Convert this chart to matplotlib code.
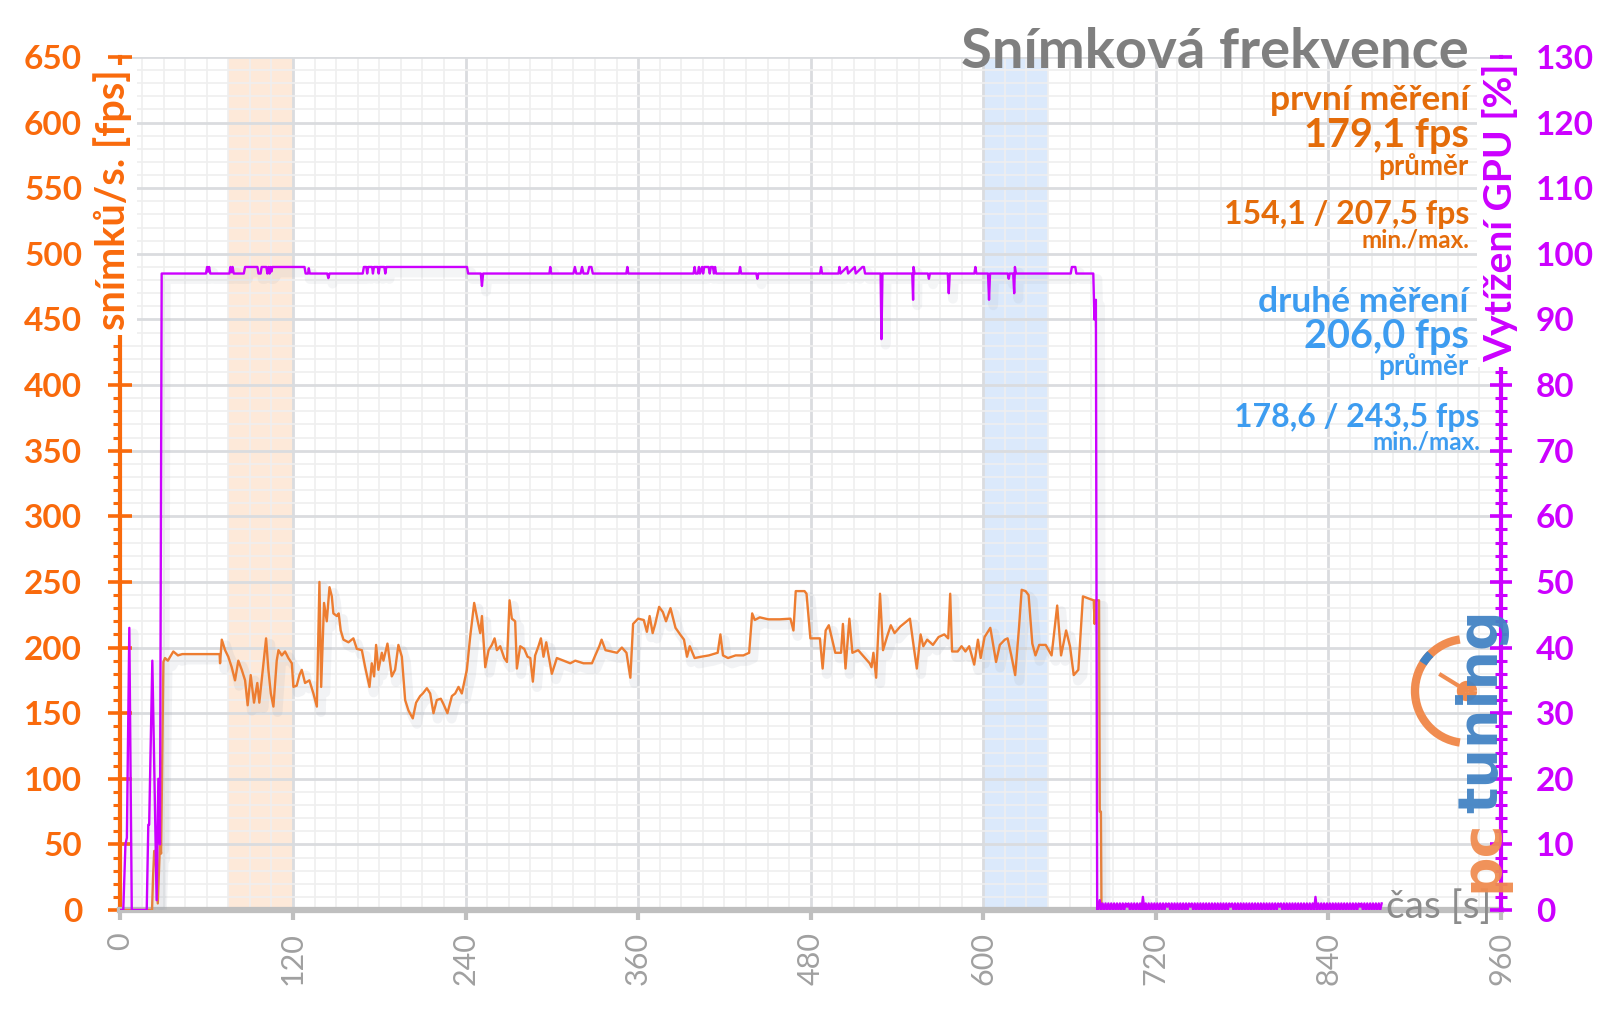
import matplotlib
matplotlib.use('Agg')
import matplotlib.pyplot as plt
import matplotlib.patheffects as pe
from matplotlib.patches import Arc
from matplotlib.lines import Line2D
from matplotlib.ticker import MultipleLocator

plt.rcParams['font.family'] = ['Lato', 'DejaVu Sans']

# snímková frekvence: čas [s] / fps
fps_t = [0, 22, 22.7, 23.5, 24.3, 26, 27.5, 28.3, 29.9, 31, 33, 36.8, 40, 43, 69, 69.3, 70.5,
         72.8, 75, 77.4, 79.7, 82, 84.4, 86.7, 88.5, 90.6, 92.9, 95.2, 96.6, 99, 101.3, 102.9,
         104.6, 106.4, 108.7, 109.9, 112.2, 114.5, 116.8, 119.2, 120.3, 122.6, 124.5, 126.1,
         128.4, 131.4, 134.2, 136.6, 138.4, 139.6, 141.6, 143.5, 145.4, 147, 148.1, 150.5,
         151.8, 153.2, 155.1, 158.6, 162, 164.4, 167.9, 170.2, 173.2, 174.8, 176.4, 177.8,
         179.4, 181.8, 182.9, 185.7, 188.7, 191, 193.3, 195.7, 198, 200.3, 203.3, 205.6, 208.4,
         210.3, 213.1, 215.4, 217.7, 220, 222.8, 224.6, 227.4, 230.5, 232.8, 235.1, 237.4,
         240.9, 243.2, 246, 248.3, 250.2, 251.4, 253.7, 256, 258.3, 260.2, 261.8, 264.1, 266.9,
         268.8, 270.6, 272.2, 274.5, 275.7, 278, 280.8, 283.1, 285, 286.8, 288.4, 290.7, 292.4,
         294.2, 296.1, 298.4, 300, 303.5, 308.1, 312.8, 316.3, 322, 327.9, 330.2, 333,
         334.6, 337.3, 341.3, 345.3, 348.7, 351.9, 354.6, 356.5, 360, 363.9, 366.1, 368, 370.1,
         371.9, 374.6, 377.2, 379.4, 382.5, 386, 389.2, 391.9, 394, 395.9, 399.3, 403.9, 409.2,
         415.3, 417.2, 419, 422.5, 427.8, 433.2, 437.2, 439.3, 441.1, 444.6, 450.5, 458.5,
         465.9, 468, 469.6, 475.7, 477.1, 479.8, 486.4, 488.3, 490.4, 492.6, 497.1, 501.1,
         502.4, 504.2, 506.9, 509, 513, 521, 522.3, 523.6, 525.5, 528.2, 530.3, 533, 535.7,
         538.3, 542.3, 549, 551.6, 553.8, 556.4, 558.3, 561, 565, 568.9, 572.9, 575.6, 577,
         578.3, 582.2, 584.9, 587.6, 590.2, 593.7, 596.3, 598.2, 600.9, 604.9, 608.9, 611.5,
         615, 616.9, 619.5, 622.2, 624.9, 626.7, 629.4, 631.5, 634.1, 636.3, 638.9, 643.4,
         647.5, 651.4, 654.1, 657.6, 660.3, 662.9, 666.1, 669.3, 674.1, 676.8, 677.4, 678,
         680.5, 681, 681.8, 682.2]
fps_v = [0, 0, 25, 45, 45, 5, 50, 43, 189, 192, 190, 197, 194, 195, 195, 188, 206,
         198, 193, 185, 175, 190, 183, 175, 156, 179, 158, 173, 158, 183, 207, 183,
         165, 155, 190, 198, 194, 197, 192, 188, 170, 171, 179, 183,
         173, 175, 165, 155, 250, 170, 234, 220, 246, 239, 226, 224,
         226, 213, 206, 204, 207, 199, 198, 185, 170, 188, 178, 202,
         183, 196, 190, 203, 178, 183, 202, 193, 160, 152, 146, 158, 163,
         165, 169, 165, 150, 160, 161, 157, 150, 163, 165, 170, 165,
         183, 208, 234, 221, 211, 224, 185, 198, 202, 207, 198, 201, 192,
         189, 236, 222, 220, 184, 201, 199, 193, 192, 174, 194, 201, 207,
         193, 204, 190, 180, 192, 190, 188, 190, 188, 188, 194, 201,
         206, 198, 197, 196, 200, 196, 177, 218, 222, 221, 212, 224, 211,
         218, 231, 227, 220, 230, 215, 210, 206, 193, 201, 192, 193, 194,
         196, 210, 194, 192, 194, 194, 196, 226, 221, 223, 221.5, 221.5,
         222, 213, 243, 243, 241, 207, 207, 184, 213, 217, 196, 196,
         218, 184, 222, 196, 198, 188, 185, 196, 177, 241, 198, 208, 217,
         211, 216, 222, 201, 184, 210, 201, 206, 202, 208, 210, 207, 241,
         197, 197, 201, 197, 201, 187, 206, 192, 208, 215, 189, 202,
         206, 207, 194, 179, 216, 244, 243, 240, 203, 194, 202, 202,
         194, 232, 194, 213, 201, 179, 183, 239, 237, 236, 218, 236,
         236, 75, 75, 0]

# vytížení GPU: čas [s] / %
gpu_t = [0, 2, 3.5, 4.5, 6.2, 7.9, 18.3, 19.4, 20, 22.2, 25.2, 26.4, 27.5, 28.7,
         59.5, 60.3, 61, 61.7, 62.5, 75.8, 76.5, 77.3, 78, 78.8, 85.8, 86.7, 95.3, 96,
         97.5, 98.2, 101.5, 102.2, 103, 103.7, 104.4, 105, 105.6, 128, 128.8, 130.5, 131,
         131.7, 143.8, 144.6, 145.4, 168.5, 169.3, 171, 171.6, 172.3, 175, 175.6, 176.3,
         179, 179.6, 180.3, 183.5, 184.2, 184.9, 241, 241.8, 250.6, 251.4, 252.2, 298.3,
         298.9, 299.5, 315, 316, 317, 320, 321, 322, 325, 326, 327.5, 328.5, 351.8, 352.5,
         353.2, 398.5, 399.3, 400, 401.5, 402.3, 403, 404.5, 405.2, 406, 409, 409.8, 410.6,
         412, 412.7, 413.5, 414.2, 430.2, 430.9, 431.6, 442.2, 442.9, 443.6, 486.5, 487.2,
         487.9, 499.3, 500, 500.7, 505.3, 506, 510.6, 511.3, 516, 517, 517.8, 528.6, 529.2,
         529.9, 550.6, 551.2, 551.5, 552.2, 561.5, 562.2, 562.9, 575.3, 576, 576.7, 593.8,
         594.5, 595.2, 603.3, 604, 604.7, 617, 617.7, 618.3, 620.8, 621.5, 622, 622.7,
         660.8, 661.6, 664, 664.7, 676.5, 677.3, 678.3, 679.2]
gpu_v = [0, 0, 10, 11, 43, 0, 0, 13, 13, 38, 1.5, 20, 10, 97,
         97, 98, 97.3, 98, 97, 97, 98, 97.2, 98, 97, 97, 98, 98, 97,
         97, 98, 98, 97, 98, 97, 98, 97.3, 98, 98, 97, 97, 97.8,
         97, 97, 96.3, 97, 97, 98, 98, 97, 98, 98, 97, 98,
         98, 97, 98, 98, 97, 98, 98, 97, 97, 95.1, 97, 97,
         98, 97, 97, 98, 97, 97, 98, 97, 97, 98, 98, 97, 97, 98,
         97, 97, 98, 97, 97, 98, 97, 98, 97, 98, 98, 97, 98,
         98, 97, 98, 97, 97, 98, 97, 97, 96.2, 97, 97, 98,
         97, 97, 98, 97, 98, 97, 98, 97, 98, 98, 97, 97, 87,
         97, 97, 93, 98, 97, 97, 96.2, 97, 97, 94, 97, 97,
         98, 97, 97, 93, 97, 97, 96.2, 97, 97, 94, 98, 97,
         97, 98, 98, 97, 97, 90, 93, 0]
# klidová část 680-877 s po 1 s, číslice x 0.5 %
gpu_klid = ("0302020202" "0202020202" "1202020202" "0402020202" "0202020212"
            "0202020202" "0202120202" "0202020202" "0202020202" "0212020202"
            "0202020202" "0202020202" "0202021202" "0202020202" "0202020202"
            "0402020202" "0202020202" "0202020202" "0212020202" "02020202")
gpu_t = gpu_t + [680 + i for i in range(len(gpu_klid))]
gpu_v = gpu_v + [int(c) * 0.5 for c in gpu_klid]

band1 = (75, 120)
band2 = (600, 645)

c_or = '#f96a0c'
c_or_txt = '#e46c0a'
c_line = '#ed7d31'
c_pur = '#cc00ff'
c_blue = '#3d9cf0'
c_gray = '#7f7f7f'

W, H = 1600, 1009
fig = plt.figure(figsize=(16, 10.09), dpi=100)
ax = fig.add_axes([120.4 / W, 1 - 910 / H, (1501 - 120.4) / W, (910 - 57) / H])

def fx(x):
    return x / W

def fy(y):
    return 1 - y / H

ax.set_xlim(0, 960)
ax.set_ylim(0, 650)
ax.xaxis.set_major_locator(MultipleLocator(120))
ax.xaxis.set_minor_locator(MultipleLocator(15))
ax.yaxis.set_major_locator(MultipleLocator(50))
ax.yaxis.set_minor_locator(MultipleLocator(10))
ax.grid(which='major', color='#dadcdf', lw=2.0)
ax.grid(which='minor', color='#efefef', lw=1.2)
ax.set_axisbelow(True)

ax.axvspan(band1[0], band1[1], color='#fde9d9', zorder=0.2, lw=0)
ax.axvspan(band2[0], band2[1], color='#dbe9fb', zorder=0.2, lw=0)

for s in ['top', 'right']:
    ax.spines[s].set_visible(False)
ax.spines['left'].set_color(c_or)
ax.spines['left'].set_linewidth(3)
ax.spines['bottom'].set_color('#bfbfbf')
ax.spines['bottom'].set_linewidth(4.5)

ax.tick_params(axis='y', which='major', direction='inout', length=17, width=2.6,
               color=c_or, labelcolor=c_or, labelsize=24, pad=19)
ax.tick_params(axis='y', which='minor', direction='out', length=5, width=2.2, color=c_or)
ax.tick_params(axis='x', which='major', direction='out', length=7, width=3,
               color='#bfbfbf', labelcolor='#a0a0a0', labelsize=22, labelrotation=90, pad=9)
ax.tick_params(axis='x', which='minor', length=0)
for lbl in ax.get_yticklabels():
    lbl.set_fontweight('bold')

ax.plot(fps_t, fps_v, color=c_line, lw=1.7, zorder=3,
        path_effects=[pe.SimpleLineShadow(offset=(3, -4), shadow_color='#9aa3b0', alpha=0.12, linewidth=7),
                      pe.Normal()])

ax2 = ax.twinx()
ax2.set_ylim(0, 130)
ax2.yaxis.set_major_locator(MultipleLocator(10))
ax2.yaxis.set_minor_locator(MultipleLocator(2))
for s in ['top', 'left', 'bottom']:
    ax2.spines[s].set_visible(False)
ax2.spines['right'].set_color(c_pur)
ax2.spines['right'].set_linewidth(3)
ax2.tick_params(axis='y', which='major', direction='inout', length=16, width=2.6,
                color=c_pur, labelcolor=c_pur, labelsize=24, pad=17)
ax2.tick_params(axis='y', which='minor', direction='inout', length=9, width=2.2, color=c_pur)
for lbl in ax2.get_yticklabels():
    lbl.set_fontweight('bold')
ax2.plot(gpu_t, gpu_v, color=c_pur, lw=1.7, zorder=3,
         path_effects=[pe.SimpleLineShadow(offset=(3, -4), shadow_color='#9aa3b0', alpha=0.1, linewidth=7),
                       pe.Normal()])

# popisky os
fig.text(fx(113), fy(200), 'snímků/s. [fps]', rotation=90, ha='center', va='center',
         fontsize=28.5, fontweight='bold', color=c_or,
         bbox=dict(boxstyle='square,pad=0.12', fc='white', ec='none'))
fig.text(fx(1500), fy(213), 'Vytížení GPU [%]', rotation=90, ha='center', va='center',
         fontsize=28, fontweight='bold', color=c_pur,
         bbox=dict(boxstyle='square,pad=0.12', fc='white', ec='none'))
fig.text(fx(1386), fy(918), 'čas [s]', ha='left', va='baseline', fontsize=28, color='#8c8c8c')

# titulek a souhrn
fig.text(fx(1469), fy(68), 'Snímková frekvence', ha='right', va='baseline',
         fontsize=40.5, fontweight='bold', color=c_gray)
legenda = [
    ('první měření', 1469, 110, 25.5, c_or_txt),
    ('179,1 fps', 1469, 147, 28.5, c_or_txt),
    ('průměr', 1469, 175, 20, c_or_txt),
    ('154,1 / 207,5 fps', 1469, 224, 23, c_or_txt),
    ('min./max.', 1469, 247, 17.5, c_or_txt),
    ('druhé měření', 1469, 312, 25.5, c_blue),
    ('206,0 fps', 1469, 348, 28.5, c_blue),
    ('průměr', 1469, 375, 20, c_blue),
    ('178,6 / 243,5 fps', 1480, 427, 23, c_blue),
    ('min./max.', 1480, 450, 17.5, c_blue),
]
for txt, x, y, fs, col in legenda:
    fig.text(fx(x), fy(y), txt, ha='right', va='baseline', fontsize=fs,
             fontweight='bold', color=col)

# logo
fig.text(fx(1482), fy(856), 'pc', rotation=90, ha='center', va='center', fontsize=40,
         fontweight='bold', color='#f08c50', family='DejaVu Sans', alpha=0.95)
fig.text(fx(1482), fy(711), 'tuning', rotation=90, ha='center', va='center', fontsize=40,
         fontweight='bold', color='#4383c4', family='DejaVu Sans', alpha=0.95)
cx, cy, r = 1467, 691, 52
fig.add_artist(Arc((fx(cx), fy(cy)), 2 * r / W, 2 * r / H, theta1=95, theta2=265,
                   transform=fig.transFigure, color='#f08c50', lw=6))
fig.add_artist(Arc((fx(cx), fy(cy)), 2 * r / W, 2 * r / H, theta1=122, theta2=135,
                   transform=fig.transFigure, color='#4383c4', lw=6))
fig.add_artist(Line2D([fx(cx), fx(cx - 26)], [fy(cy), fy(cy - 16)], transform=fig.transFigure,
                      color='#f08c50', lw=3))
fig.add_artist(Arc((fx(cx), fy(cy)), 12 / W, 12 / H, transform=fig.transFigure,
                   color='#f08c50', lw=6))

fig.savefig('out.png', dpi=100, facecolor='white')
